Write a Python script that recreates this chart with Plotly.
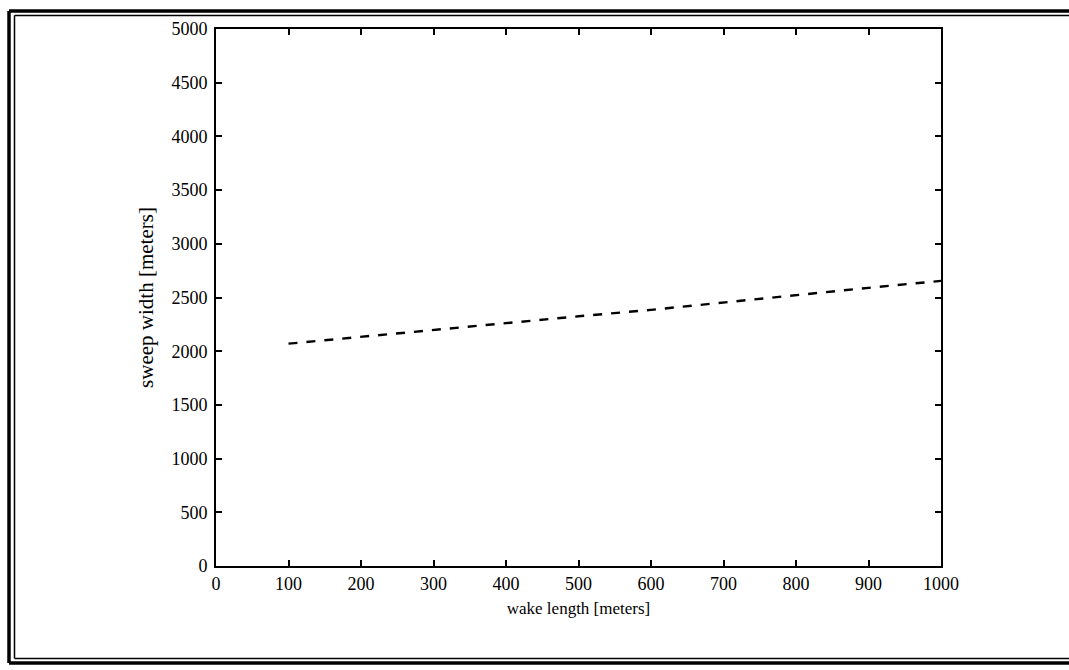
import plotly.graph_objects as go

wake_length = [100, 200, 300, 400, 500, 600, 700, 800, 900, 1000]
sweep_width = [2070, 2135, 2200, 2265, 2325, 2385, 2455, 2520, 2590, 2655]

x_ticks = [0, 100, 200, 300, 400, 500, 600, 700, 800, 900, 1000]
y_ticks = [0, 500, 1000, 1500, 2000, 2500, 3000, 3500, 4000, 4500, 5000]

W, H = 1069, 670
L, R, T, B = 216, 941, 29, 566

fig = go.Figure()
fig.add_trace(go.Scatter(
    x=wake_length, y=sweep_width, mode="lines",
    line=dict(color="black", width=2.4, dash="dash"),
    showlegend=False,
))

font_family = "Liberation Serif"

axis_common = dict(
    showgrid=False, zeroline=False, showline=True, linecolor="black", linewidth=2,
    mirror="ticks", ticks="inside", ticklen=6, tickwidth=1.5, tickcolor="black",
    tickfont=dict(family=font_family, size=18, color="black"),
)

fig.update_xaxes(range=[0, 1000], tickvals=x_ticks, ticktext=[str(v) for v in x_ticks],
                 title=dict(text="wake length [meters]",
                            font=dict(family=font_family, size=17, color="black"),
                            standoff=10),
                 **axis_common)
fig.update_yaxes(range=[0, 5000], tickvals=y_ticks, ticktext=[str(v) for v in y_ticks],
                 ticklabelstandoff=3,
                 title=dict(text="sweep width [meters]",
                            font=dict(family=font_family, size=21, color="black"),
                            standoff=12),
                 **axis_common)

def px(xp):
    return (xp - L) / (R - L)

def py(yp):
    return (B - yp) / (B - T)

shapes = []

def frame(xl, yt, yb, width):
    xr = 1069 + 20
    segs = [((xl, yt), (xr, yt)), ((xl, yt), (xl, yb)), ((xl, yb), (xr, yb))]
    for (a, b) in segs:
        shapes.append(dict(type="line", xref="paper", yref="paper",
                           x0=px(a[0]), y0=py(a[1]), x1=px(b[0]), y1=py(b[1]),
                           line=dict(color="black", width=width), layer="above"))

frame(9, 11, 663, 3.5)
frame(14.5, 15.5, 658.5, 1.5)

fig.update_layout(
    width=W, height=H,
    margin=dict(l=L, r=W - R, t=T, b=H - B),
    paper_bgcolor="white", plot_bgcolor="white",
    shapes=shapes,
)

fig.write_html("out.html")
